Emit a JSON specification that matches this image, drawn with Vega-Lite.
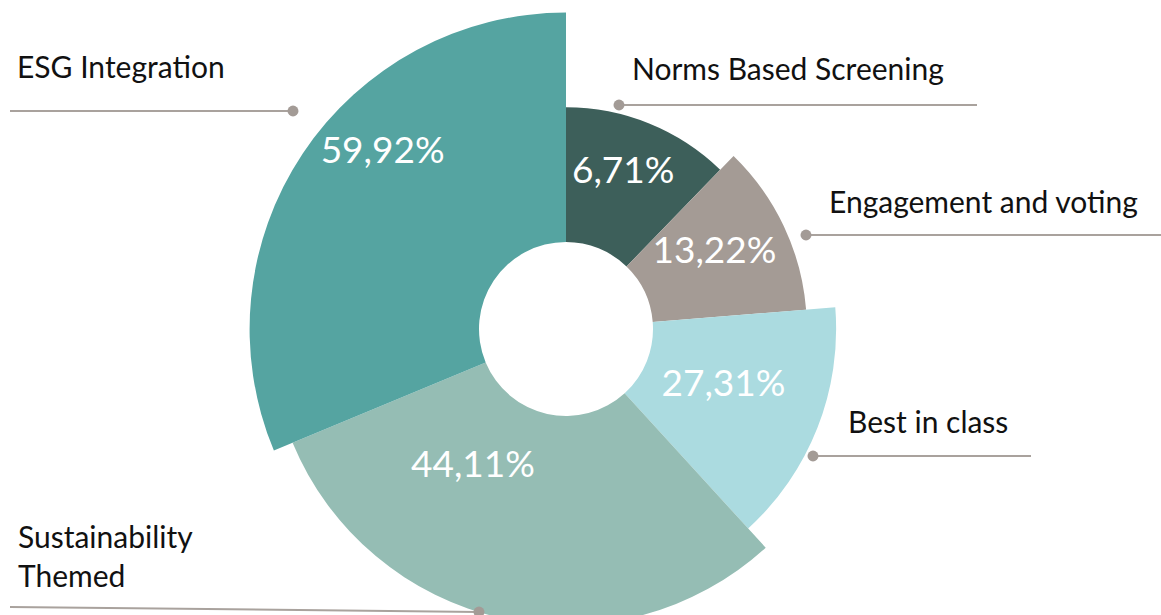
{
  "$schema": "https://vega.github.io/schema/vega-lite/v6.json",
  "width": 1132,
  "height": 572,
  "autosize": {"type": "none"},
  "padding": {"left": 0, "right": 29, "top": 43, "bottom": 0},
  "background": "white",
  "config": {"view": {"stroke": null}},
  "datasets": {
    "slices": [
      {"category": "Norms Based Screening", "value": 6.71, "label": "6,71%", "angle": 44.07},
      {"category": "Engagement and voting", "value": 13.22, "label": "13,22%", "angle": 41.33},
      {"category": "Best in class", "value": 27.31, "label": "27,31%", "angle": 52.2},
      {"category": "Sustainability Themed", "value": 44.11, "label": "44,11%", "angle": 109.8},
      {"category": "ESG Integration", "value": 59.92, "label": "59,92%", "angle": 112.6}
    ],
    "callouts": [
      {"category": "ESG Integration", "text": "ESG Integration", "label_x": -5.49, "label_y": 2.51, "dot_x": -2.73, "dot_y": 2.18, "end_x": -5.56, "end_y": 2.18},
      {"category": "Norms Based Screening", "text": "Norms Based Screening", "label_x": 0.66, "label_y": 2.49, "dot_x": 0.53, "dot_y": 2.24, "end_x": 4.11, "end_y": 2.24},
      {"category": "Engagement and voting", "text": "Engagement and voting", "label_x": 2.63, "label_y": 1.16, "dot_x": 2.40, "dot_y": 0.94, "end_x": 5.95, "end_y": 0.94},
      {"category": "Best in class", "text": "Best in class", "label_x": 2.82, "label_y": -1.04, "dot_x": 2.47, "dot_y": -1.27, "end_x": 4.65, "end_y": -1.27},
      {"category": "Sustainability Themed", "text": "Sustainability\nThemed", "label_x": -5.48, "label_y": -2.19, "dot_x": -0.87, "dot_y": -2.83, "end_x": -5.56, "end_y": -2.78}
    ]
  },
  "layer": [
    {
      "data": {"name": "slices"},
      "transform": [
        {"stack": "angle", "groupby": [], "sort": [{"field": "value", "order": "ascending"}], "as": ["a0", "a1"]}
      ],
      "mark": {"type": "arc", "innerRadius": 87},
      "encoding": {
        "theta": {"field": "a0", "type": "quantitative", "scale": {"domain": [0, 360], "zero": true, "nice": false}},
        "theta2": {"field": "a1"},
        "radius": {"field": "value", "type": "quantitative", "scale": {"type": "sqrt", "domain": [0, 60], "range": [174, 316.5], "zero": false}},
        "color": {
          "field": "category", "type": "nominal", "legend": null,
          "scale": {
            "domain": ["Norms Based Screening", "Engagement and voting", "Best in class", "Sustainability Themed", "ESG Integration"],
            "range": ["#3d5f5a", "#a49b95", "#abdbe0", "#95bdb4", "#55a4a1"]
          }
        }
      }
    },
    {
      "data": {"name": "slices"},
      "mark": {"type": "text", "radius": 167, "thetaOffset": -0.035, "font": "Lato", "fontWeight": 400, "fontSize": 37, "color": "white", "align": "center", "baseline": "middle"},
      "encoding": {
        "theta": {"field": "angle", "type": "quantitative", "stack": true},
        "order": {"field": "value", "type": "quantitative", "sort": "ascending"},
        "text": {"field": "label"},
        "opacity": {"condition": {"test": "datum.value < 30", "value": 1}, "value": 0}
      }
    },
    {
      "data": {"name": "slices"},
      "mark": {"type": "text", "radius": 255, "thetaOffset": 0.18, "font": "Lato", "fontWeight": 400, "fontSize": 37, "color": "white", "align": "center", "baseline": "middle"},
      "encoding": {
        "theta": {"field": "angle", "type": "quantitative", "stack": true},
        "order": {"field": "value", "type": "quantitative", "sort": "ascending"},
        "text": {"field": "label"},
        "opacity": {"condition": {"test": "datum.category === 'ESG Integration'", "value": 1}, "value": 0}
      }
    },
    {
      "data": {"name": "slices"},
      "mark": {"type": "text", "radius": 166, "thetaOffset": 0.377, "font": "Lato", "fontWeight": 400, "fontSize": 37, "color": "white", "align": "center", "baseline": "middle"},
      "encoding": {
        "theta": {"field": "angle", "type": "quantitative", "stack": true},
        "order": {"field": "value", "type": "quantitative", "sort": "ascending"},
        "text": {"field": "label"},
        "opacity": {"condition": {"test": "datum.category === 'Sustainability Themed'", "value": 1}, "value": 0}
      }
    },
    {
      "data": {"name": "callouts"},
      "mark": {"type": "rule", "color": "#a9a29d", "strokeWidth": 2},
      "encoding": {
        "x": {"field": "dot_x", "type": "quantitative", "axis": null, "scale": {"domain": [-5.66, 5.66], "nice": false, "zero": false}},
        "x2": {"field": "end_x"},
        "y": {"field": "dot_y", "type": "quantitative", "axis": null, "scale": {"domain": [-2.86, 2.86], "nice": false, "zero": false}},
        "y2": {"field": "end_y"}
      }
    },
    {
      "data": {"name": "callouts"},
      "mark": {"type": "point", "filled": true, "size": 120, "color": "#a39b96", "opacity": 1},
      "encoding": {
        "x": {"field": "dot_x", "type": "quantitative", "axis": null, "scale": {"domain": [-5.66, 5.66], "nice": false, "zero": false}},
        "y": {"field": "dot_y", "type": "quantitative", "axis": null, "scale": {"domain": [-2.86, 2.86], "nice": false, "zero": false}}
      }
    },
    {
      "data": {"name": "callouts"},
      "mark": {"type": "text", "align": "left", "baseline": "alphabetic", "font": "Lato", "fontSize": 30, "color": "#111111", "lineBreak": "\n", "lineHeight": 39},
      "encoding": {
        "x": {"field": "label_x", "type": "quantitative", "axis": null, "scale": {"domain": [-5.66, 5.66], "nice": false, "zero": false}},
        "y": {"field": "label_y", "type": "quantitative", "axis": null, "scale": {"domain": [-2.86, 2.86], "nice": false, "zero": false}},
        "text": {"field": "text"}
      }
    }
  ]
}
